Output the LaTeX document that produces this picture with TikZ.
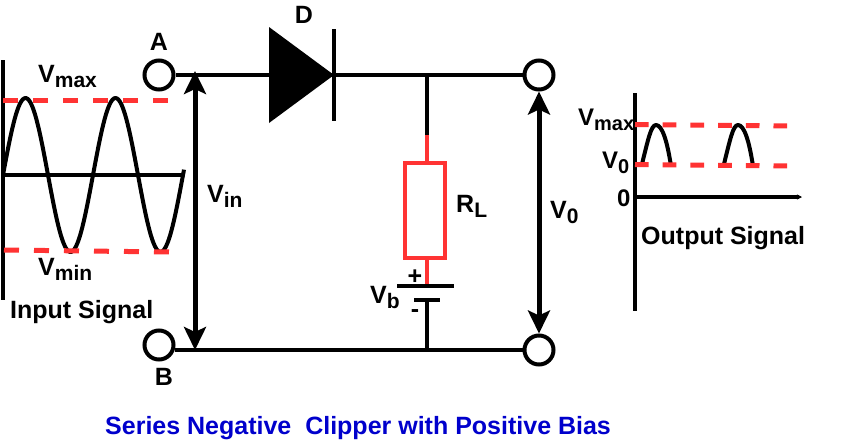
\documentclass[tikz,border=0pt]{standalone}
\usepackage{fontspec}
\setmainfont{Liberation Sans}
\usetikzlibrary{arrows.meta}
\definecolor{redline}{RGB}{255,51,51}
\definecolor{titleblue}{RGB}{0,0,204}
\newcommand{\subs}[1]{\raisebox{-5pt}{\fontsize{21}{24}\selectfont #1}}
\newcommand{\subo}[1]{\raisebox{-5pt}{\fontsize{20}{24}\selectfont #1}}
\tikzset{
  lbl/.style={anchor=base west,inner sep=0pt,font=\bfseries\fontsize{25}{28}\selectfont},
  lblo/.style={anchor=base west,inner sep=0pt,font=\bfseries\fontsize{24}{28}\selectfont},
  lblc/.style={anchor=base,inner sep=0pt,font=\bfseries\fontsize{25}{28}\selectfont},
  terminal/.style={circle,draw=black,line width=4pt,fill=white,minimum size=29pt,inner sep=0pt},
  wire/.style={draw=black,line width=3.8pt},
  redwire/.style={draw=redline,line width=4.5pt},
  reddash/.style={draw=redline,line width=5pt,dash pattern=on 15pt off 15pt},
  reddashb/.style={draw=redline,line width=5pt,dash pattern=on 13.7pt off 14pt},
  sigline/.style={draw=black,line width=4pt,line join=round},
  volt/.style={draw=black,line width=5pt,{Stealth[length=23pt,width=22pt,inset=5pt]}-{Stealth[length=23pt,width=22pt,inset=5pt]}},
  x=1pt,y=-1pt
}
\begin{document}
\begin{tikzpicture}
\useasboundingbox (0,0) rectangle (847,440);
% terminals
\node[terminal] (A) at (159,75) {};
\node[terminal] (B) at (159,345) {};
\node[terminal] (C) at (539,75) {};
\node[terminal] (E) at (539,350) {};
% coordinates
\coordinate (junc) at (427,75);
\coordinate (jbot) at (427,350);
\coordinate (redtop) at (427,135);
\coordinate (plusplate) at (427,286);
\coordinate (minusplate) at (427,300);
\coordinate (vinT) at (195,71);
\coordinate (vinB) at (195,350);
% wires
\draw[wire] (A) -- (C);
\draw[wire] (B.-20 |- E) -- (E);
\draw[wire] (junc) -- (redtop);
\draw[wire] (minusplate) -- (jbot);
% resistor
\node[draw=redline,line width=4.5pt,minimum width=40pt,minimum height=95pt,inner sep=0pt] (R) at (425,210.5) {};
\draw[redwire] (redtop) -- (R.north -| redtop);
\draw[redwire] (R.south -| redtop) -- (plusplate);
% diode
\fill[black] (269,27) -- (269,123) -- (334,75) -- cycle;
\draw[black,line width=3.8pt] (334,29) -- (334,121);
% battery
\draw[black,line width=3.8pt] (397,286) -- (454,286);
\draw[black,line width=3.8pt] (414,300) -- (440,300);
% voltage arrows
\draw[volt] (vinT) -- (vinB);
\draw[volt] (C.south) -- (E.north);
% input signal
\draw[black,line width=4pt] (3,60) -- (3,300);
\draw[sigline] (3,175) -- (184,175);
\draw[sigline] plot[domain=0:181,samples=120,smooth] ({3+\x},{175-77*sin(\x*4)});
\draw[reddash] (3,100) -- (170,100);
\draw[reddash] (4,250) -- (170,252);
% output signal
\draw[black,line width=4pt] (635,93) -- (635,311);
\draw[black,line width=3.5pt,-{Stealth[length=5pt,width=5pt]}] (635,197) -- (802,197);
\draw[sigline] (642,164) .. controls (648,140) and (651,125) .. (656,125) .. controls (662,125) and (667,140) .. (671,166);
\draw[sigline] (724,164) .. controls (730,140) and (733,125) .. (738,125) .. controls (744,125) and (749,140) .. (753,166);
\draw[reddashb] (635,124.5) -- (788,126);
\draw[reddashb] (635,164.5) -- (788,166);
% labels
\node[lbl] (lvmax) at (38,82) {V\subs{max}};
\node[lbl] (lvmin) at (38,275) {V\subs{min}};
\node[lbl] (lin) at (10,318) {Input Signal};
\node[lblc] (la) at (159,50) {A};
\node[lblc] (lb) at (164,385) {B};
\node[lblc] (ld) at (304,23) {D};
\node[lbl] (lvin) at (207,202) {V\subs{in}};
\node[lbl] (lrl) at (456,212) {R\subs{L}};
\node[lbl] (lv0) at (550,218) {V\subs{0}};
\node[lbl] (lvb) at (370,303) {V\subs{b}};
\node[lblc] (lplus) at (415,284) {+};
\node[lblc] (lminus) at (415,317) {-};
\node[lblo] (ovmax) at (578,125) {V\subo{max}};
\node[lblo] (ov0) at (602,168) {V\subo{0}};
\node[lblo] (ozero) at (617,206) {0};
\node[lbl] (lout) at (641,244) {Output Signal};
\node[lbl,text=titleblue] (title) at (105,434) {Series Negative\ \ Clipper with Positive Bias};
\end{tikzpicture}
\end{document}
